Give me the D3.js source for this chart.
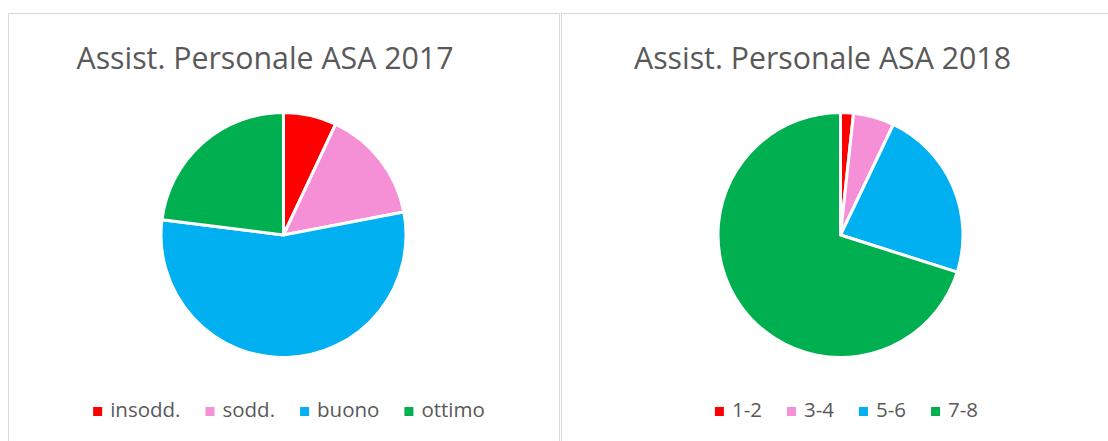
<!DOCTYPE html>
<html>
<head>
<meta charset="utf-8">
<script src="https://cdn.jsdelivr.net/npm/d3@7"></script>
<style>
  html, body { margin: 0; padding: 0; background: #fff; }
  svg { display: block; font-family: "Open Sans", sans-serif; }
</style>
</head>
<body>
<div id="chart"></div>
<script>
// data
const cats2017 = ['insodd.', 'sodd.', 'buono', 'ottimo'];
const vals2017 = [7, 15, 55, 23];
const cats2018 = ['1-2', '3-4', '5-6', '7-8'];
const vals2018 = [1.7, 5.4, 22.8, 70.1];
const sliceColors = ['#FF0000', '#F590D6', '#00B0F0', '#00B050'];
const titles = ['Assist. Personale ASA 2017', 'Assist. Personale ASA 2018'];

const W = 1108, H = 441;
const svg = d3.select('#chart').append('svg')
    .attr('width', W)
    .attr('height', H);

const panels = [
    {x: 8, w: 551, title: titles[0], cats: cats2017, vals: vals2017, cx: 283.5, titleX: 76.5, legendCx: 289},
    {x: 561, w: 560, title: titles[1], cats: cats2018, vals: vals2018, cx: 840.5, titleX: 634, legendCx: 846.5}
];

const textColor = '#595959';
const pie = d3.pie().sort(null).value(d => d);
const arc = d3.arc().innerRadius(0).outerRadius(122.5);

panels.forEach(p => {
    const g = svg.append('g');

    // frame
    g.append('rect')
        .attr('x', p.x + 0.5)
        .attr('y', 13.5)
        .attr('width', p.w)
        .attr('height', 460)
        .attr('fill', '#fff')
        .attr('stroke', '#D9D9D9')
        .attr('stroke-width', 1);

    // title
    g.append('text')
        .attr('x', p.titleX)
        .attr('y', 69)
        .attr('fill', textColor)
        .style('font-size', '31px')
        .attr('textLength', 377)
        .attr('lengthAdjust', 'spacingAndGlyphs')
        .text(p.title);

    // pie
    const color = d3.scaleOrdinal().domain(p.cats).range(sliceColors);
    const pg = g.append('g').attr('transform', `translate(${p.cx},235)`);
    pg.selectAll('path')
        .data(pie(p.vals))
        .join('path')
        .attr('d', arc)
        .attr('fill', (d, i) => color(p.cats[i]))
        .attr('stroke', '#fff')
        .attr('stroke-width', 3)
        .attr('stroke-linejoin', 'round');

    // legend, laid out from measured text widths
    const lg = g.append('g');
    const items = lg.selectAll('g')
        .data(p.cats)
        .join('g');
    items.append('rect')
        .attr('width', 9)
        .attr('height', 9)
        .attr('y', 407)
        .attr('fill', d => color(d));
    items.append('text')
        .attr('x', 17)
        .attr('y', 417)
        .attr('fill', textColor)
        .style('font-size', '20.5px')
        .text(d => d);

    let pos = 0;
    const offsets = [];
    items.each(function() {
        offsets.push(pos);
        const tw = d3.select(this).select('text').node().getComputedTextLength();
        pos += 17 + tw + 25;
    });
    const total = pos - 25;
    const start = p.legendCx - total / 2;
    items.attr('transform', (d, i) => `translate(${start + offsets[i]},0)`);
});
</script>
</body>
</html>
